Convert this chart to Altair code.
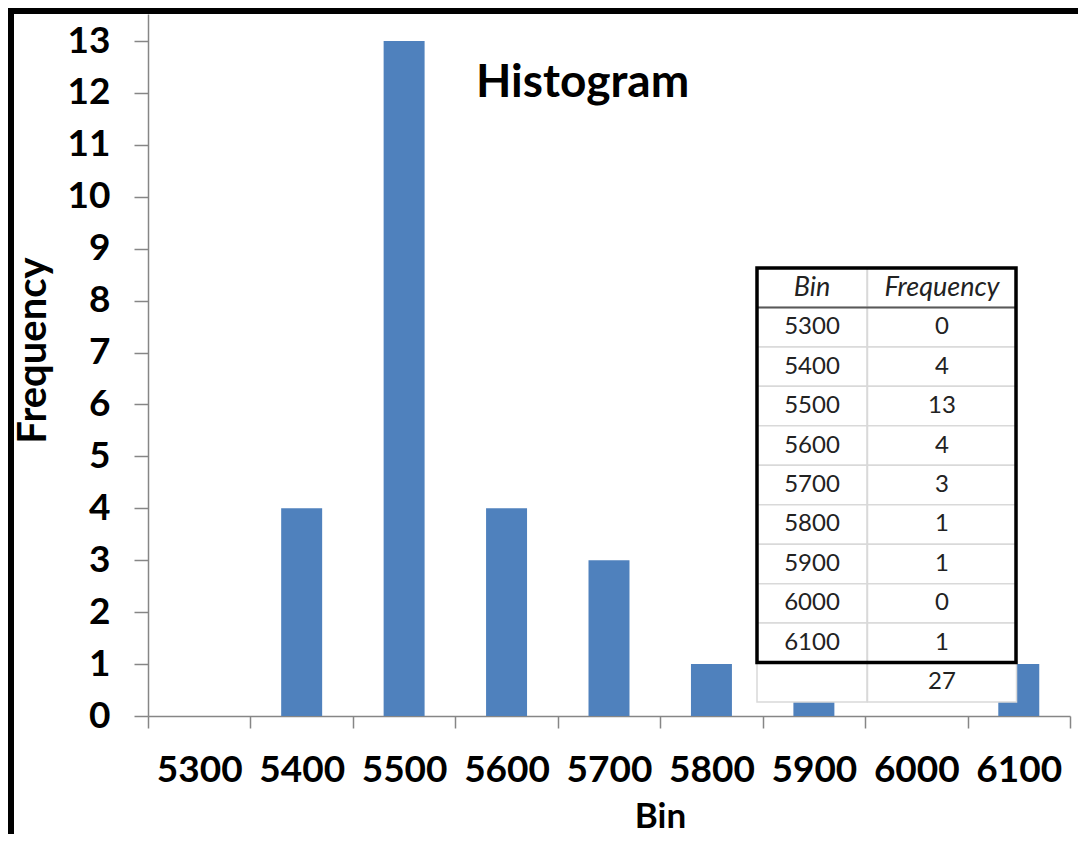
import altair as alt
import pandas as pd

# ---- data ----
bins = ["5300", "5400", "5500", "5600", "5700", "5800", "5900", "6000", "6100"]
freq = [0, 4, 13, 4, 3, 1, 1, 0, 1]
y_ticks = list(range(0, 14))
table_header = ["Bin", "Frequency"]
total_label = ["", "27"]

# ---- layout ----
W, H = 922, 702
PAD = {"left": 140, "top": 6, "right": 8, "bottom": 118}
FONT = "Lato"
AXIS_GRAY = "#868686"

hist = pd.DataFrame({"Bin": bins, "Frequency": freq})

# table in long form built from the arrays above
rows = []
rows.append({"row": 0, "col": "Bin", "text": table_header[0], "kind": "head"})
rows.append({"row": 0, "col": "Frequency", "text": table_header[1], "kind": "head"})
for i, (b, f) in enumerate(zip(bins, freq)):
    rows.append({"row": i + 1, "col": "Bin", "text": b, "kind": "body"})
    rows.append({"row": i + 1, "col": "Frequency", "text": str(f), "kind": "body"})
rows.append({"row": len(bins) + 1, "col": "Bin", "text": total_label[0], "kind": "body"})
rows.append({"row": len(bins) + 1, "col": "Frequency", "text": total_label[1], "kind": "body"})
table = pd.DataFrame(rows)
n_rows = len(bins) + 2

bars = alt.Chart(hist).mark_bar(color="#4F81BD", width={"band": 0.4}).encode(
    x=alt.X(
        "Bin:N",
        sort=bins,
        scale=alt.Scale(paddingInner=0, paddingOuter=0),
        axis=alt.Axis(
            title="Bin",
            tickBand="extent",
            labelAngle=0,
            labelFont=FONT,
            labelFontSize=37,
            labelFontWeight="bold",
            labelColor="#000000",
            labelPadding=24,
            tickSize=12,
            tickColor=AXIS_GRAY,
            tickWidth=1.5,
            domainColor=AXIS_GRAY,
            domainWidth=1.5,
            titleFont=FONT,
            titleFontSize=35,
            titleFontWeight="bold",
            titleColor="#000000",
            titleX=512,
            titleY=111,
            titleAlign="center",
            titleBaseline="alphabetic",
        ),
    ),
    y=alt.Y(
        "Frequency:Q",
        scale=alt.Scale(domain=[0, 13.52], nice=False),
        axis=alt.Axis(
            title="Frequency",
            values=y_ticks,
            grid=False,
            labelFont=FONT,
            labelFontSize=37,
            labelFontWeight="bold",
            labelColor="#000000",
            labelPadding=24,
            tickSize=14,
            tickColor=AXIS_GRAY,
            tickWidth=1.5,
            domainColor=AXIS_GRAY,
            domainWidth=1.5,
            titleFont=FONT,
            titleFontSize=40,
            titleFontWeight="bold",
            titleColor="#000000",
            titleAngle=270,
            titleX=-103,
            titleY=336,
            titleAlign="center",
            titleBaseline="alphabetic",
        ),
    ),
)

# table scales (pixel ranges inside plot area)
tx = alt.Scale(type="point", domain=table_header, range=[664, 794], padding=0)
ty = alt.Scale(domain=[0, n_rows], range=[254, 688], nice=False, zero=False)

base_t = alt.Chart(table).transform_calculate(
    r1="datum.row + 1", rc="datum.row + 0.5"
)

cells_bin = base_t.transform_filter(alt.datum.col == "Bin").mark_rect(
    width=110, fill="#ffffff", stroke="#d9d9d9", strokeWidth=1.5
).encode(
    x=alt.X("col:N", scale=tx, axis=None),
    y=alt.Y("row:Q", scale=ty, axis=None),
    y2="r1:Q",
)
cells_freq = base_t.transform_filter(alt.datum.col == "Frequency").mark_rect(
    width=149, fill="#ffffff", stroke="#d9d9d9", strokeWidth=1.5
).encode(
    x=alt.X("col:N", scale=tx, axis=None),
    y=alt.Y("row:Q", scale=ty, axis=None),
    y2="r1:Q",
)

head_text = base_t.transform_filter(alt.datum.kind == "head").mark_text(
    font=FONT, fontSize=27, fontStyle="italic", color="#222222", baseline="middle"
).encode(
    x=alt.X("col:N", scale=tx, axis=None),
    y=alt.Y("rc:Q", scale=ty, axis=None),
    text="text:N",
)
body_text = base_t.transform_filter(alt.datum.kind == "body").mark_text(
    font=FONT, fontSize=24, color="#222222", baseline="middle"
).encode(
    x=alt.X("col:N", scale=tx, axis=None),
    y=alt.Y("rc:Q", scale=ty, axis=None),
    text="text:N",
)

one = pd.DataFrame({"k": [0]})
head_sep = alt.Chart(one).mark_rule(color="#595959", strokeWidth=2, xOffset=-55, x2Offset=74.5).encode(
    x=alt.X(datum="Bin", scale=tx, axis=None),
    x2=alt.X2(datum="Frequency"),
    y=alt.Y(datum=1, scale=ty, axis=None),
)
frame = alt.Chart(one).mark_rect(
    width=259, xOffset=74.5, fillOpacity=0, stroke="#000000", strokeWidth=3.5
).encode(
    x=alt.X(datum="Bin", scale=tx, axis=None),
    y=alt.Y(datum=0, scale=ty, axis=None),
    y2=alt.Y2(datum=len(bins) + 1),
)

# screenshot frame (thick black border at top and left)
border_top = alt.Chart(one).mark_rule(color="#000000", strokeWidth=6).encode(
    x=alt.value(-PAD["left"]), x2=alt.value(W + PAD["right"]), y=alt.value(-3)
)
border_left = alt.Chart(one).mark_rule(color="#000000", strokeWidth=6).encode(
    x=alt.value(-PAD["left"] + 3), y=alt.value(-PAD["top"]), y2=alt.value(H + PAD["bottom"])
)

chart = alt.layer(
    bars, cells_bin, cells_freq, head_text, body_text, head_sep, frame, border_top, border_left
).resolve_scale(
    x="independent", y="independent"
).properties(
    width=W,
    height=H,
    padding=PAD,
    autosize=alt.AutoSizeParams(type="none"),
    background="#ffffff",
    title=alt.TitleParams(
        "Histogram",
        anchor="start",
        orient="top",
        offset=0,
        dx=471,
        dy=138,
        baseline="alphabetic",
        font=FONT,
        fontSize=46,
        fontWeight="bold",
        color="#000000",
    ),
).configure_view(strokeWidth=0)

chart.save("out.html", embed_options={"renderer": "svg", "actions": False})
